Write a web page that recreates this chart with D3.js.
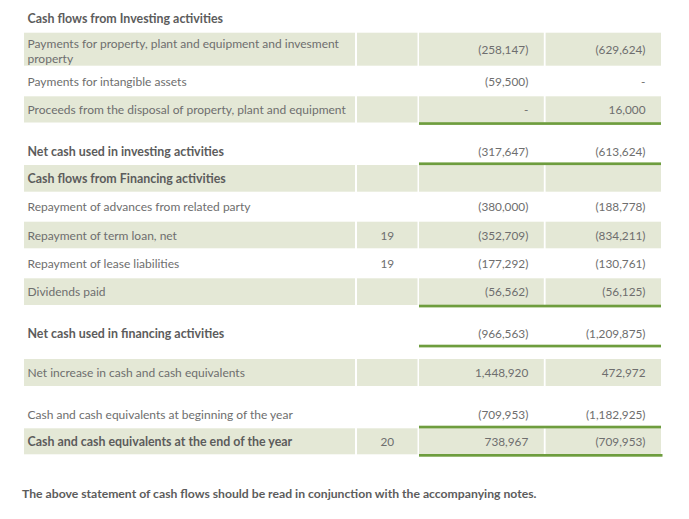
<!DOCTYPE html>
<html><head><meta charset="utf-8">
<script src="https://cdn.jsdelivr.net/npm/d3@7"></script>
<style>
html,body{margin:0;padding:0;background:#fff;}
svg{display:block;}
</style></head>
<body>
<svg id="chart" width="689" height="519"></svg>
<script>
// ---- data ----
const labels = [
  "Cash flows from Investing activities",
  "Payments for property, plant and equipment and invesment|property",
  "Payments for intangible assets",
  "Proceeds from the disposal of property, plant and equipment",
  "Net cash used in investing activities",
  "Cash flows from Financing activities",
  "Repayment of advances from related party",
  "Repayment of term loan, net",
  "Repayment of lease liabilities",
  "Dividends paid",
  "Net cash used in financing activities",
  "Net increase in cash and cash equivalents",
  "Cash and cash equivalents at beginning of the year",
  "Cash and cash equivalents at the end of the year"
];
const notes = ["", "", "", "", "", "", "", "19", "19", "", "", "", "", "20"];
const currentYear = ["", "(258,147)", "(59,500)", "-", "(317,647)", "", "(380,000)", "(352,709)", "(177,292)", "(56,562)", "(966,563)", "1,448,920", "(709,953)", "738,967"];
const priorYear  = ["", "(629,624)", "-", "16,000", "(613,624)", "", "(188,778)", "(834,211)", "(130,761)", "(56,125)", "(1,209,875)", "472,972", "(1,182,925)", "(709,953)"];
const footnote = "The above statement of cash flows should be read in conjunction with the accompanying notes.";

// ---- layout (row geometry & style, separate from data) ----
const rowLayout = [
  {top: 5,     h: 27.7, band: false, bold: true,  noCells: true},
  {top: 32.7,  h: 33,   band: true},
  {top: 65.7,  h: 30.6, band: false},
  {top: 96.3,  h: 26.2, band: true,  rule: true},
  {top: 125,   h: 37.7, band: false, bold: true, textDy: 7.5, rule: true},
  {top: 165,   h: 26.7, band: true,  bold: true},
  {top: 191.7, h: 30,   band: false},
  {top: 221.7, h: 26.6, band: true},
  {top: 248.3, h: 30,   band: false},
  {top: 278.3, h: 26.7, band: true,  rule: true},
  {top: 307.5, h: 37.5, band: false, bold: true, textDy: 7, rule: true},
  {top: 359,   h: 27,   band: true},
  {top: 386,   h: 40,   band: false, textDy: 8, rule: true},
  {top: 428.3, h: 26,   band: true,  bold: true, rule: true, ruleWide: true}
];

const cols = {
  label: {x0: 24, x1: 355},
  note:  {x0: 357, x1: 417.5},
  cur:   {x0: 419, x1: 543.8},
  prior: {x0: 545.6, x1: 661}
};
const BAND = "#e4e8d6", GREEN = "#6e9d3e", TXT = "#6e6e6e", BTXT = "#5c5c5c";
const FONT = "Lato, 'Open Sans', sans-serif";
const FS = 12, FSB = 12.4;

const svg = d3.select("#chart");
const rows = labels.map((l, i) => ({label: l, note: notes[i], cur: currentYear[i], prior: priorYear[i], ...rowLayout[i]}));

const g = svg.append("g");

// bands
rows.filter(r => r.band).forEach(r => {
  Object.values(cols).forEach(c => {
    g.append("rect").attr("x", c.x0).attr("y", r.top).attr("width", c.x1 - c.x0).attr("height", r.h).attr("fill", BAND);
  });
});

// rules under numeric columns
rows.filter(r => r.rule).forEach(r => {
  g.append("rect").attr("x", cols.cur.x0).attr("y", r.top + r.h - 0.3)
    .attr("width", (cols.prior.x1 + (r.ruleWide ? 1.5 : 0)) - cols.cur.x0).attr("height", 2.7).attr("fill", GREEN);
});

// text
rows.forEach(r => {
  const cy = r.top + r.h / 2 + (r.textDy || 0);
  const parts = r.label.split("|");
  const lab = g.append("text")
    .attr("x", 27.5)
    .attr("font-family", FONT).attr("font-size", r.bold ? FSB : FS)
    .attr("font-weight", r.bold ? 700 : 400)
    .attr("fill", r.bold ? BTXT : TXT);
  if (parts.length === 1) {
    lab.attr("y", cy).attr("dominant-baseline", "central").text(parts[0]);
  } else {
    parts.forEach((p, k) => {
      lab.append("tspan").attr("x", 27.5).attr("y", r.top + 10.5 + k * 15.5).attr("dominant-baseline", "central").text(p);
    });
  }
  const numText = (v, x, anchor) => {
    if (!v) return;
    g.append("text").attr("x", x).attr("y", r.top + r.h / 2 + (r.textDy || 0))
      .attr("dominant-baseline", "central").attr("text-anchor", anchor)
      .attr("font-family", FONT).attr("font-size", 11.8).attr("fill", TXT).text(v);
  };
  numText(r.note, (cols.note.x0 + cols.note.x1) / 2, "middle");
  numText(r.cur, cols.cur.x1 - 15.5, "end");
  numText(r.prior, cols.prior.x1 - 15.5, "end");
});

// footnote
g.append("text").attr("x", 22).attr("y", 493.7).attr("dominant-baseline", "central")
  .attr("font-family", FONT).attr("font-size", 12.2).attr("font-weight", 700).attr("fill", BTXT)
  .text(footnote);
</script>
</body></html>
